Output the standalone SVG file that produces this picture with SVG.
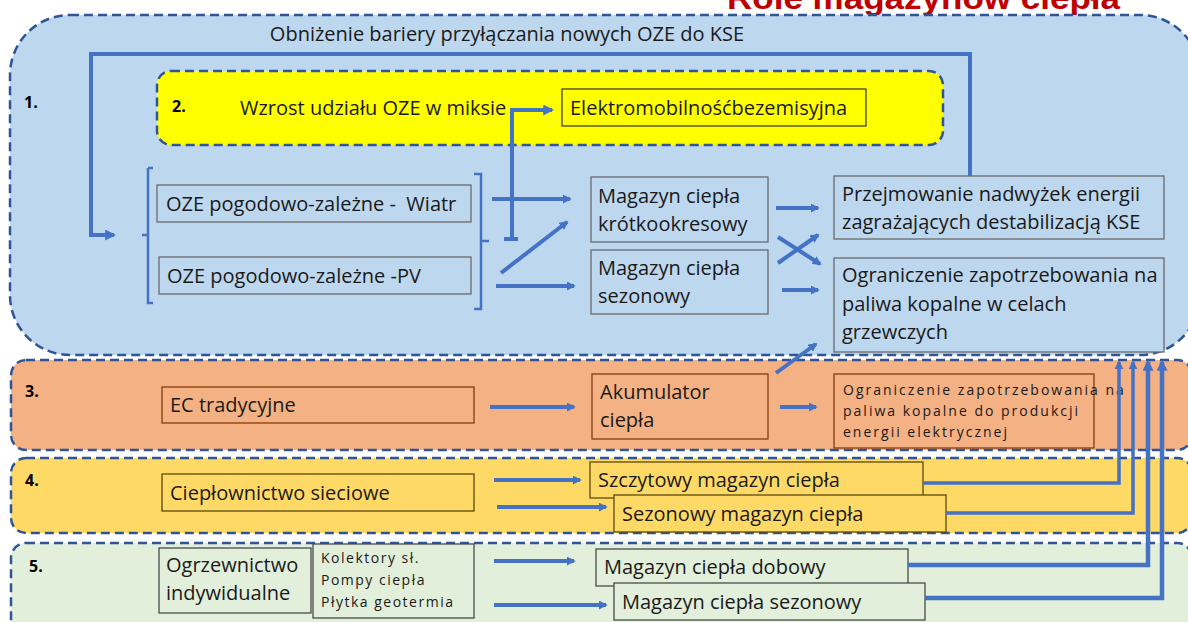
<svg xmlns="http://www.w3.org/2000/svg" width="1188" height="622" viewBox="0 0 1188 622">
<defs>
<marker id="ah" viewBox="0 0 10 10" refX="8" refY="5" markerWidth="11" markerHeight="11" markerUnits="userSpaceOnUse" orient="auto">
<path d="M0,0 L10,5 L0,10 z" fill="#4472C4"/>
</marker>
<marker id="ahs" viewBox="0 0 10 10" refX="8" refY="5" markerWidth="9" markerHeight="9" markerUnits="userSpaceOnUse" orient="auto">
<path d="M0,0 L10,5 L0,10 z" fill="#4472C4"/>
</marker>
</defs>
<style>
text{font-family:"Open Sans","Liberation Sans",Arial,sans-serif;fill:#1a1a1a;}
.t{font-size:20px;}
.s{font-size:14px;letter-spacing:2px;}
.k{font-size:14px;letter-spacing:1.5px;}
.num{font-size:16px;font-weight:bold;fill:#000;}
.reg{stroke:#2F5597;stroke-width:2.5;stroke-dasharray:9 5;}
.bb{fill:#BDD7EE;stroke:#6b6b6b;stroke-width:1.3;}
.ob{fill:#F4B183;stroke:#843C0C;stroke-width:1.3;}
.yb{fill:#FFD966;stroke:#5a4a10;stroke-width:1.3;}
.gb{fill:#E2EFDA;stroke:#4a4a4a;stroke-width:1.3;}
.c{fill:none;stroke:#4472C4;stroke-width:4;}
.cb{fill:none;stroke:#4472C4;stroke-width:2.5;}
</style>
<rect width="1188" height="622" fill="#ffffff"/>
<text x="727" y="9" textLength="393" lengthAdjust="spacingAndGlyphs" style="font-family:'Liberation Sans',Arial,sans-serif;font-size:32px;font-weight:bold;fill:#C00000">Role magazynów ciepła</text>

<g id="region1">
<rect class="reg" x="10" y="15" width="1190" height="340" rx="60" fill="#BDD7EE"/>
<text class="num" x="24" y="108">1.</text>
<text class="t" x="507" y="41" text-anchor="middle">Obniżenie bariery przyłączania nowych OZE do KSE</text>
</g>
<g id="region2">
<rect class="reg" x="157" y="71" width="786" height="74" rx="14" fill="#FFFF00"/>
<text class="num" x="172" y="112">2.</text>
<text class="t" x="240" y="115">Wzrost udziału OZE w miksie</text>
</g>
<g id="region3">
<rect class="reg" x="11" y="360" width="1181" height="90" rx="15" fill="#F4B183"/>
<text class="num" x="25" y="397">3.</text>
</g>
<g id="region4">
<rect class="reg" x="11" y="458" width="1181" height="75" rx="15" fill="#FFD966"/>
<text class="num" x="25" y="486">4.</text>
</g>
<g id="region5">
<rect class="reg" x="11" y="543" width="1181" height="100" rx="15" fill="#E2EFDA"/>
<text class="num" x="29" y="572">5.</text>
</g>

<g id="elektromobilnosc">
<rect x="562" y="89" width="304" height="37" fill="#FFFF00" stroke="#333" stroke-width="1.2"/>
<text class="t" x="570" y="115">Elektromobilnośćbezemisyjna</text>
</g>
<g id="oze-wiatr">
<rect class="bb" x="157" y="185" width="314" height="37"/>
<text class="t" x="166" y="211" style="white-space:pre">OZE pogodowo-zależne -  Wiatr</text>
</g>
<g id="oze-pv">
<rect class="bb" x="159" y="257" width="312" height="37"/>
<text class="t" x="167" y="283">OZE pogodowo-zależne -PV</text>
</g>
<g id="mag-krotko">
<rect class="bb" x="591" y="177" width="177" height="65"/>
<text class="t" x="598" y="203">Magazyn ciepła</text>
<text class="t" x="598" y="231">krótkookresowy</text>
</g>
<g id="mag-sezon">
<rect class="bb" x="591" y="250" width="177" height="64"/>
<text class="t" x="598" y="275">Magazyn ciepła</text>
<text class="t" x="598" y="303">sezonowy</text>
</g>
<g id="przejmowanie">
<rect class="bb" x="834" y="176" width="330" height="63"/>
<text class="t" x="842" y="201">Przejmowanie nadwyżek energii</text>
<text class="t" x="842" y="229">zagrażających destabilizacją KSE</text>
</g>
<g id="ograniczenie-grzew">
<rect class="bb" x="834" y="258" width="330" height="94"/>
<text class="t" x="842" y="282">Ograniczenie zapotrzebowania na</text>
<text class="t" x="842" y="311">paliwa kopalne w celach</text>
<text class="t" x="842" y="339">grzewczych</text>
</g>
<g id="ec">
<rect class="ob" x="162" y="387" width="312" height="36"/>
<text class="t" x="170" y="412">EC tradycyjne</text>
</g>
<g id="akumulator">
<rect class="ob" x="592" y="374" width="176" height="65"/>
<text class="t" x="600" y="399">Akumulator</text>
<text class="t" x="600" y="427">ciepła</text>
</g>
<g id="ograniczenie-el">
<rect class="ob" x="834" y="374" width="260" height="74"/>
<text class="s" x="843" y="395">Ograniczenie zapotrzebowania na</text>
<text class="s" x="843" y="416">paliwa kopalne do produkcji</text>
<text class="s" x="843" y="437">energii elektrycznej</text>
</g>
<g id="cieplownictwo">
<rect class="yb" x="162" y="474" width="312" height="37"/>
<text class="t" x="170" y="500">Ciepłownictwo sieciowe</text>
</g>
<g id="szczytowy">
<rect class="yb" x="590" y="462" width="333" height="36"/>
<text class="t" x="598" y="487">Szczytowy magazyn ciepła</text>
</g>
<g id="sezonowy-siec">
<rect class="yb" x="614" y="495" width="332" height="37"/>
<text class="t" x="622" y="521">Sezonowy magazyn ciepła</text>
</g>
<g id="ogrzewnictwo">
<rect class="gb" x="159" y="548" width="152" height="65"/>
<text class="t" x="166" y="572">Ogrzewnictwo</text>
<text class="t" x="166" y="600">indywidualne</text>
</g>
<g id="kolektory">
<rect class="gb" x="313" y="544" width="161" height="74"/>
<text class="k" x="321" y="563">Kolektory sł.</text>
<text class="k" x="321" y="585">Pompy ciepła</text>
<text class="k" x="321" y="607">Płytka geotermia</text>
</g>
<g id="dobowy">
<rect class="gb" x="596" y="549" width="312" height="37"/>
<text class="t" x="604" y="574">Magazyn ciepła dobowy</text>
</g>
<g id="sezonowy-ind">
<rect class="gb" x="614" y="583" width="311" height="37"/>
<text class="t" x="622" y="609">Magazyn ciepła sezonowy</text>
</g>

<g id="connectors">
<path class="c" d="M970,176 V54 H91 V235 H114" marker-end="url(#ah)"/>
<path class="c" d="M512,239 V110 H552" marker-end="url(#ah)"/>
<path class="c" d="M504,239 H518"/>
<path class="cb" d="M148,168 H153 M148,168 V303 H153 M148,235 H142"/>
<path class="cb" d="M474,174 H481 V309 H474 M481,241 H489"/>
<path class="c" d="M492,199 H570" marker-end="url(#ahs)"/>
<path class="c" d="M501,273 L567,222" marker-end="url(#ahs)"/>
<path class="c" d="M496,286 H574" marker-end="url(#ahs)"/>
<path class="c" d="M776,208 H818" marker-end="url(#ahs)"/>
<path class="c" d="M778,237 L820,264" marker-end="url(#ahs)"/>
<path class="c" d="M778,263 L818,235" marker-end="url(#ahs)"/>
<path class="c" d="M782,290 H818" marker-end="url(#ahs)"/>
<path class="c" d="M776,373 L816,344" marker-end="url(#ahs)"/>
<path class="c" d="M490,407 H574" marker-end="url(#ahs)"/>
<path class="c" d="M780,407 H816" marker-end="url(#ahs)"/>
<path class="c" d="M494,480 H580" marker-end="url(#ahs)"/>
<path class="c" d="M497,507 H606" marker-end="url(#ahs)"/>
<path class="c" d="M494,561 H574" marker-end="url(#ahs)"/>
<path class="c" d="M494,605 H606" marker-end="url(#ahs)"/>
<path class="c" style="stroke-width:3.5" d="M923,483 H1119 V362" marker-end="url(#ahs)"/>
<path class="c" style="stroke-width:3.5" d="M946,513 H1133 V362" marker-end="url(#ahs)"/>
<path class="c" style="stroke-width:4.5" d="M908,565 H1148 V362" marker-end="url(#ah)"/>
<path class="c" style="stroke-width:4.5" d="M925,598 H1162 V362" marker-end="url(#ah)"/>
</g>
</svg>
